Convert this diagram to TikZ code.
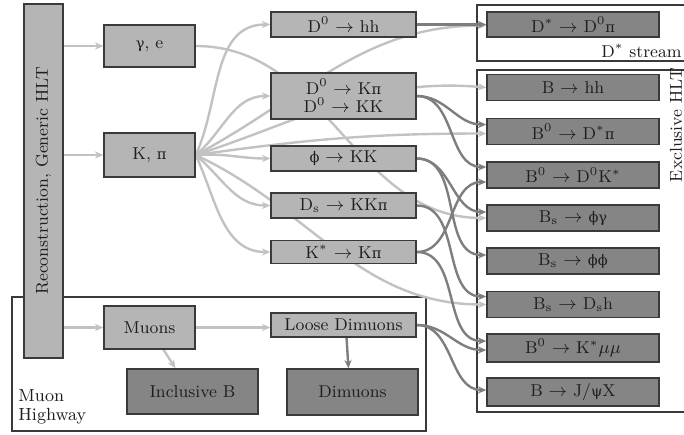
\documentclass[tikz,border=0pt]{standalone}
\usepackage{fontspec}
\newfontfamily\grkfont{DejaVu Serif}[Scale=0.85]
\usetikzlibrary{arrows.meta}
\pgfdeclarelayer{bg}
\pgfdeclarelayer{edges}
\pgfsetlayers{bg,edges,main}
\definecolor{lightfill}{HTML}{B5B5B5}
\definecolor{darkfill}{HTML}{858585}
\definecolor{boxborder}{HTML}{3A3A3A}
\definecolor{lightline}{HTML}{C2C2C2}
\definecolor{darkline}{HTML}{7E7E7E}
\definecolor{txt}{HTML}{1E1E1E}
\newcommand{\gkl}[1]{{\grkfont #1}}
\begin{document}
\begin{tikzpicture}[x=0.5pt,y=-0.5pt,
  font=\fontsize{8.6}{10.3}\selectfont, text=txt,
  lbox/.style={draw=boxborder, fill=lightfill, line width=0.7pt, inner sep=0pt, align=center},
  dbox/.style={draw=boxborder, fill=darkfill, line width=0.7pt, inner sep=0pt, align=center},
  xbox/.style={dbox, minimum width=86pt, minimum height=13pt},
  mbox/.style={lbox, minimum width=72.5pt},
  frame/.style={draw=boxborder, line width=1pt},
  larrow/.style={draw=lightline, line width=1.2pt, -{Stealth[length=4.2pt,width=3.6pt]}},
  darrow/.style={draw=darkline, line width=1.2pt, -{Stealth[length=4.2pt,width=3.6pt]}}]
\useasboundingbox (0,0) rectangle (684,434);

% left column
\node[lbox, minimum width=177pt, minimum height=19.5pt, rotate=90] (reco) at (43.5,181) {Reconstruction, Generic HLT};
\node[lbox, minimum width=45.5pt, minimum height=21pt] (ge) at (149.5,46) {\gkl{γ}, e};
\node[lbox, minimum width=45.5pt, minimum height=22pt] (kp) at (149.5,155) {K, \gkl{π}};
\node[lbox, minimum width=45.5pt, minimum height=21.5pt] (muons) at (149.5,327.5) {Muons};

% middle column
\node[mbox, minimum height=12.5pt] (dhh) at (343.5,24.5) {D$^0$ $\rightarrow$ hh};
\node[mbox, minimum height=23pt] (dkp) at (343.5,96) {D$^0$ $\rightarrow$ K\gkl{π}\\[-1pt]D$^0$ $\rightarrow$ KK};
\node[mbox, minimum height=12.5pt] (phi) at (343.5,158.5) {\gkl{ϕ} $\rightarrow$ KK};
\node[mbox, minimum height=12.5pt] (ds) at (343.5,205.5) {D$_{\mathrm{s}}$ $\rightarrow$ KK\gkl{π}};
\node[mbox, minimum height=11.5pt] (ks) at (343.5,252) {K$^*$ $\rightarrow$ K\gkl{π}};
\node[mbox, minimum height=12pt] (ldm) at (343.5,325) {Loose Dimuons};

% muon highway outputs
\node[dbox, minimum width=65.5pt, minimum height=22.5pt] (incb) at (192.5,391.5) {Inclusive B};
\node[dbox, minimum width=65.5pt, minimum height=23pt] (dimu) at (352.5,392) {Dimuons};

% right column
\node[xbox, minimum height=12.5pt] (dst) at (573,24.5) {D$^*$ $\rightarrow$ D$^0$\gkl{π}};
\node[xbox] (bhh) at (573,87.5) {B $\rightarrow$ hh};
\node[xbox] (bdp) at (573,131.5) {B$^0$ $\rightarrow$ D$^*$\gkl{π}};
\node[xbox] (bdk) at (573,175) {B$^0$ $\rightarrow$ D$^0$K$^*$};
\node[xbox] (bpg) at (573,218) {B$_{\mathrm{s}}$ $\rightarrow$ \gkl{ϕγ}};
\node[xbox] (bpp) at (573,261) {B$_{\mathrm{s}}$ $\rightarrow$ \gkl{ϕϕ}};
\node[xbox] (bdh) at (573,304.5) {B$_{\mathrm{s}}$ $\rightarrow$ D$_{\mathrm{s}}$h};
\node[xbox, minimum height=14pt] (bkm) at (573,348) {B$^0$ $\rightarrow$ K$^*\mu\mu$};
\node[xbox, minimum height=14pt] (bjx) at (573,392) {B $\rightarrow$ J/\gkl{ψ}X};

% container labels
\node[anchor=base east, inner sep=0pt] (dslabel) at (682,57) {D$^*$ stream};
\node[rotate=90, inner sep=0pt] (exlabel) at (676,125) {Exclusive HLT};
\node[anchor=north west, inner sep=0pt, align=left, font=\fontsize{8.8}{9.3}\selectfont] (mhlabel) at (18,389) {Muon\\Highway};

% containers
\begin{pgfonlayer}{bg}
\draw[frame] (12,297) rectangle (426,431);
\draw[frame] (477,5) rectangle (688,61);
\draw[frame] (477,70) rectangle (688,412);
\end{pgfonlayer}

% connectors
\begin{pgfonlayer}{edges}
\draw[larrow] (reco.south |- ge.west) -- (ge.west);
\draw[larrow] (reco.south |- kp.west) -- (kp.west);
\draw[larrow] (reco.south |- muons.west) -- (muons.west);
\draw[larrow] (kp.east) to[out=65,in=180] (dhh.west);
\draw[larrow] (kp.east) to[out=40,in=180] (dkp.west);
\draw[larrow] (kp.east) to[out=4,in=180] (phi.west);
\draw[larrow] (kp.east) to[out=-40,in=180] (ds.west);
\draw[larrow] (kp.east) to[out=-65,in=180] (ks.west);
\draw[larrow] (kp.east) to[out=28,in=180] ([yshift=-0.5pt]dst.west);
\draw[larrow] (kp.east) to[out=18,in=175] (bhh.west);
\draw[larrow] (kp.east) to[out=8,in=180] ([yshift=-1pt]bdp.west);
\draw[larrow] (kp.east) to[out=-25,in=180] ([yshift=0pt]bdh.west);
\draw[larrow] (ge.east) to[out=0,in=180] ([yshift=0pt]bpg.west);
\draw[larrow] ([xshift=7pt]muons.south) -- ([xshift=-8.5pt]incb.north);
\draw[larrow] (muons.east) -- (muons.east -| ldm.west);

\draw[darrow] (dhh.east) -- (dst.west);
\draw[darrow] (dkp.east) to[out=0,in=180] ([yshift=3.5pt]bdp.west);
\draw[darrow] (dkp.east) to[out=0,in=180] ([yshift=4pt]bdk.west);
\draw[darrow] (phi.east) to[out=0,in=180] ([yshift=3pt]bpg.west);
\draw[darrow] (phi.east) to[out=0,in=180] ([yshift=3pt]bpp.west);
\draw[darrow] (ds.east) to[out=0,in=180] ([yshift=4pt]bdh.west);
\draw[darrow] (ks.east) to[out=0,in=180] ([yshift=-3.5pt]bdk.west);
\draw[darrow] (ks.east) to[out=0,in=180] ([yshift=3.5pt]bkm.west);
\draw[darrow] (ldm.east) to[out=0,in=180] ([yshift=-1pt]bkm.west);
\draw[darrow] (ldm.east) to[out=0,in=180] ([yshift=1pt]bjx.west);
\draw[darrow] ([xshift=1.5pt]ldm.south) -- ([xshift=-2pt]dimu.north);
\end{pgfonlayer}
\end{tikzpicture}
\end{document}
